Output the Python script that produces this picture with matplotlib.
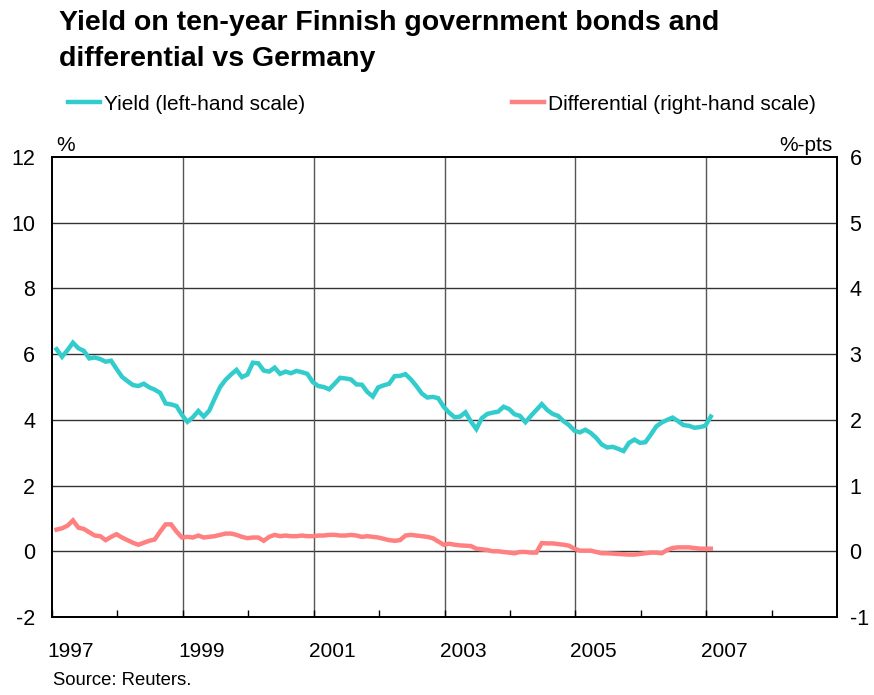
import numpy as np
import matplotlib
matplotlib.use("Agg")
import matplotlib.pyplot as plt
import matplotlib.transforms as mtransforms

plt.rcParams['font.family'] = ['Liberation Sans', 'DejaVu Sans']
plt.rcParams['axes.unicode_minus'] = False

# monthly observations, Jan 1997 .. Jan 2007
start_year = 1997.07
yield_pct = [
    6.15, 5.92, 6.12, 6.35, 6.18, 6.10, 5.87, 5.90, 5.85, 5.77, 5.80, 5.55,
    5.31, 5.18, 5.06, 5.03, 5.10, 4.99, 4.92, 4.82, 4.50, 4.47, 4.42, 4.15,
    3.94, 4.08, 4.27, 4.10, 4.28, 4.65, 5.00, 5.22, 5.38, 5.52, 5.30, 5.38,
    5.74, 5.72, 5.50, 5.47, 5.59, 5.40, 5.47, 5.42, 5.49, 5.45, 5.40, 5.15,
    5.03, 5.00, 4.93, 5.10, 5.28, 5.26, 5.23, 5.08, 5.07, 4.85, 4.71, 4.99,
    5.05, 5.10, 5.33, 5.34, 5.39, 5.23, 5.03, 4.80, 4.68, 4.70, 4.66, 4.40,
    4.22, 4.08, 4.10, 4.23, 3.95, 3.72, 4.05, 4.18, 4.22, 4.25, 4.40, 4.33,
    4.17, 4.12, 3.93, 4.12, 4.30, 4.48, 4.30, 4.18, 4.12, 3.96, 3.84, 3.67,
    3.62, 3.70, 3.60, 3.45, 3.25, 3.16, 3.18, 3.12, 3.05, 3.30, 3.40, 3.30,
    3.32, 3.55, 3.80, 3.92, 4.00, 4.07, 3.96, 3.84, 3.82, 3.76, 3.78, 3.82,
    4.10,
]
diff_pts = [
    0.33, 0.35, 0.39, 0.47, 0.36, 0.34, 0.29, 0.24, 0.23, 0.17, 0.22, 0.26,
    0.21, 0.17, 0.13, 0.10, 0.13, 0.16, 0.18, 0.30, 0.41, 0.41, 0.30, 0.21,
    0.22, 0.21, 0.24, 0.21, 0.22, 0.23, 0.25, 0.27, 0.27, 0.25, 0.22, 0.20,
    0.21, 0.21, 0.16, 0.22, 0.25, 0.23, 0.24, 0.23, 0.23, 0.24, 0.23, 0.23,
    0.24, 0.24, 0.25, 0.25, 0.24, 0.24, 0.25, 0.24, 0.22, 0.23, 0.22, 0.21,
    0.19, 0.17, 0.16, 0.17, 0.24, 0.25, 0.24, 0.23, 0.22, 0.20, 0.15, 0.10,
    0.115, 0.10, 0.09, 0.085, 0.08, 0.04, 0.03, 0.02, 0.00, 0.00, -0.01, -0.02,
    -0.03, -0.01, -0.01, -0.02, -0.02, 0.125, 0.12, 0.12, 0.11, 0.10, 0.085, 0.04,
    0.01, 0.01, 0.01, -0.01, -0.03, -0.03, -0.035, -0.04, -0.045, -0.05, -0.05, -0.04,
    -0.03, -0.02, -0.02, -0.03, 0.02, 0.05, 0.06, 0.06, 0.06, 0.05, 0.04, 0.04,
    0.04,
]
year_labels = ['1997', '1999', '2001', '2003', '2005', '2007']
left_ticks = [-2, 0, 2, 4, 6, 8, 10, 12]
right_ticks = [-1, 0, 1, 2, 3, 4, 5, 6]

t = start_year + np.arange(len(yield_pct)) / 12.0

teal = '#33CCCC'
pink = '#FF8080'

fig = plt.figure(figsize=(8.74, 6.95), dpi=100)
ax = fig.add_axes([0.0595, 0.1122, 0.8982, 0.6619])
ax2 = ax.twinx()

ax.set_xlim(1997, 2009)
ax.set_ylim(-2, 12)
ax2.set_ylim(-1, 6)

# grid
for v in left_ticks[1:-1]:
    ax.axhline(v, color='#333333', lw=1.0, zorder=1)
for yr in year_labels[1:]:
    ax.axvline(int(yr), color='#555555', lw=1.0, zorder=1)

l1, = ax.plot(t, yield_pct, color=teal, lw=3.2, solid_joinstyle='miter', zorder=3)
l2, = ax2.plot(t, diff_pts, color=pink, lw=3.2, solid_joinstyle='miter', zorder=3)

ax.set_yticks(left_ticks)
ax2.set_yticks(right_ticks)
ax.tick_params(axis='y', length=0, labelsize=15.5, pad=12)
ax2.tick_params(axis='y', length=0, labelsize=15.5, pad=9)

ax.set_xticks([int(y) for y in year_labels])
ax.set_xticks(np.arange(1998, 2009, 2), minor=True)
ax.set_xticklabels([])
ax.tick_params(axis='x', which='both', direction='in', length=5, width=1, color='black')
for yr in year_labels:
    ax.text(int(yr) + 0.28, -0.055, yr, transform=mtransforms.blended_transform_factory(ax.transData, ax.transAxes),
            ha='center', va='top', fontsize=15)

for a in (ax, ax2):
    for s in a.spines.values():
        s.set_color('black')
        s.set_linewidth(1.3)

fig.text(0.0675, 0.985, 'Yield on ten-year Finnish government bonds and\ndifferential vs Germany',
         ha='left', va='top', fontsize=20.5, fontweight='bold', linespacing=1.5)

fig.legend([l1], ['Yield (left-hand scale)'], loc='center left', bbox_to_anchor=(0.0778, 0.850),
           frameon=False, fontsize=15, handlelength=1.55, handletextpad=0.2,
           borderpad=0, borderaxespad=0)
fig.legend([l2], ['Differential (right-hand scale)'], loc='center left', bbox_to_anchor=(0.5858, 0.850),
           frameon=False, fontsize=15, handlelength=1.55, handletextpad=0.2,
           borderpad=0, borderaxespad=0)

fig.text(0.064, 0.791, '%', ha='left', va='center', fontsize=15)
fig.text(0.953, 0.791, '%-pts', ha='right', va='center', fontsize=15)
fig.text(0.061, 0.008, 'Source: Reuters.', ha='left', va='bottom', fontsize=13.3)

fig.savefig('out.png', dpi=100)
